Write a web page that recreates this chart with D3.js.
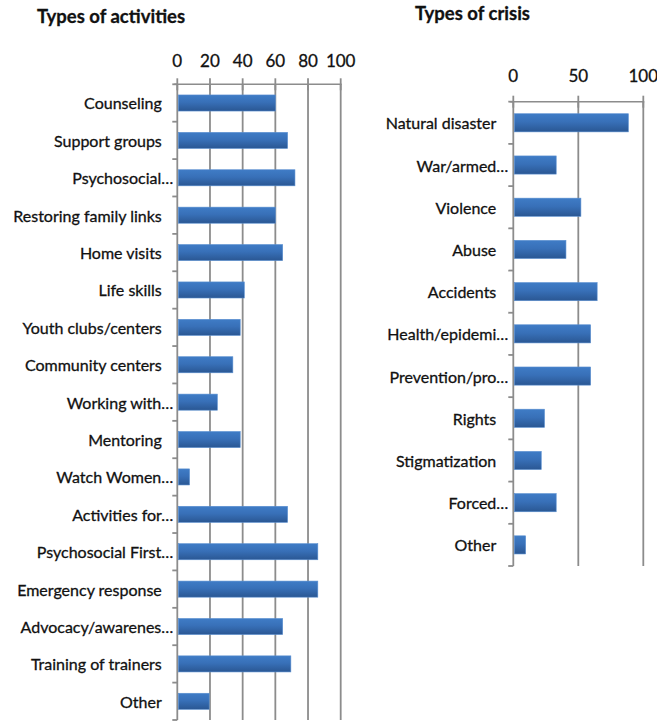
<!DOCTYPE html>
<html>
<head>
<meta charset="utf-8">
<script src="https://cdn.jsdelivr.net/npm/d3@7"></script>
<style>
  body { margin: 0; background: #fff; }
  svg text { font-family: Lato, "Open Sans", sans-serif; fill: #111; stroke: #111; stroke-width: 0.3px; }
</style>
</head>
<body>
<svg id="chart" width="657" height="722"></svg>
<script>
// ---- Data ----
const activityCategories = [
  "Counseling", "Support groups", "Psychosocial…", "Restoring family links",
  "Home visits", "Life skills", "Youth clubs/centers", "Community centers",
  "Working with…", "Mentoring", "Watch Women…", "Activities for…",
  "Psychosocial First…", "Emergency response", "Advocacy/awarenes…",
  "Training of trainers", "Other"
];
const activityValues = [60, 67.5, 72, 60, 64.5, 41, 38.5, 34, 24.5, 38.5, 7.5, 67.5, 86, 86, 64.5, 69.5, 19.5];
const activityTicks = [0, 20, 40, 60, 80, 100];

const crisisCategories = [
  "Natural disaster", "War/armed…", "Violence", "Abuse", "Accidents",
  "Health/epidemi…", "Prevention/pro…", "Rights", "Stigmatization",
  "Forced…", "Other"
];
const crisisValues = [88.5, 33, 52, 40.5, 64.5, 59.5, 59.5, 24, 21.5, 33, 9.5];
const crisisTicks = [0, 50, 100];

const titles = ["Types of activities", "Types of crisis"];

// ---- Drawing ----
const svg = d3.select("#chart");
const defs = svg.append("defs");
const grad = defs.append("linearGradient").attr("id", "barGrad")
  .attr("x1", 0).attr("y1", 0).attr("x2", 0).attr("y2", 1);
grad.append("stop").attr("offset", "0%").attr("stop-color", "#3f7cc6");
grad.append("stop").attr("offset", "45%").attr("stop-color", "#3870b8");
grad.append("stop").attr("offset", "100%").attr("stop-color", "#2a5793");

const gridColor = "#8c8c8c";
const labelSize = "16px";

function drawPanel(cfg) {
  const g = svg.append("g");
  const x = d3.scaleLinear().domain([0, 100]).range([cfg.x0, cfg.x1]);
  const y = d3.scaleBand().domain(cfg.cats).range([cfg.y0, cfg.y1]).paddingInner(0.57).paddingOuter(0.285);
  const yb = d3.scaleBand().domain(cfg.cats).range([cfg.y0, cfg.y1]);

  // title
  g.append("text").attr("x", cfg.titleX).attr("y", cfg.titleY)
    .style("font-size", "18.5px").style("font-weight", "bold").text(cfg.title);

  // gridlines
  g.selectAll("line.grid").data(cfg.ticks.filter(t => t > 0)).join("line")
    .attr("x1", d => x(d)).attr("x2", d => x(d))
    .attr("y1", cfg.y0).attr("y2", cfg.y1)
    .attr("stroke", gridColor).attr("stroke-width", 1.8);

  // top axis line + ticks
  g.append("line").attr("x1", cfg.x0 - 3).attr("x2", x(100) + 1)
    .attr("y1", cfg.y0).attr("y2", cfg.y0).attr("stroke", gridColor).attr("stroke-width", 1.5);
  g.selectAll("line.xt").data(cfg.ticks).join("line")
    .attr("x1", d => x(d)).attr("x2", d => x(d))
    .attr("y1", cfg.y0 - 6).attr("y2", cfg.y0 + 6)
    .attr("stroke", gridColor).attr("stroke-width", 1.8);
  g.selectAll("text.xt").data(cfg.ticks).join("text")
    .attr("x", d => x(d)).attr("y", cfg.tickLabelY)
    .attr("text-anchor", "middle").attr("dominant-baseline", "central")
    .style("font-size", "17px").text(d => d);

  // vertical axis
  g.append("line").attr("x1", cfg.x0).attr("x2", cfg.x0)
    .attr("y1", cfg.y0).attr("y2", cfg.y1).attr("stroke", gridColor).attr("stroke-width", 1.8);
  const bounds = cfg.cats.map(c => yb(c)).concat([cfg.y1]);
  g.selectAll("line.yt").data(bounds).join("line")
    .attr("x1", cfg.x0 - 5).attr("x2", cfg.x0)
    .attr("y1", d => d).attr("y2", d => d)
    .attr("stroke", gridColor).attr("stroke-width", 1.8);

  // bars
  g.selectAll("rect.bar").data(cfg.vals).join("rect")
    .attr("x", cfg.x0 + 1)
    .attr("y", (d, i) => y(cfg.cats[i]))
    .attr("width", d => x(d) - cfg.x0 - 1)
    .attr("height", y.bandwidth())
    .attr("fill", "url(#barGrad)")
    .attr("stroke", "#5a8fd0").attr("stroke-width", 0.6);

  // category labels
  g.selectAll("text.cat").data(cfg.cats).join("text")
    .attr("x", d => d.endsWith("…") ? cfg.x0 - cfg.ellOff : cfg.x0 - cfg.normOff)
    .attr("y", d => yb(d) + yb.bandwidth() / 2)
    .attr("text-anchor", "end").attr("dominant-baseline", "central")
    .style("font-size", labelSize).text(d => d);
}

drawPanel({
  title: titles[0], titleX: 37, titleY: 23,
  cats: activityCategories, vals: activityValues, ticks: activityTicks,
  x0: 177.3, x1: 340.7, y0: 84.3, y1: 720, tickLabelY: 60,
  normOff: 15.5, ellOff: 4
});
drawPanel({
  title: titles[1], titleX: 415, titleY: 20,
  cats: crisisCategories, vals: crisisValues, ticks: crisisTicks,
  x0: 513.3, x1: 643.3, y0: 101.7, y1: 566, tickLabelY: 75,
  normOff: 17, ellOff: 5
});
</script>
</body>
</html>
